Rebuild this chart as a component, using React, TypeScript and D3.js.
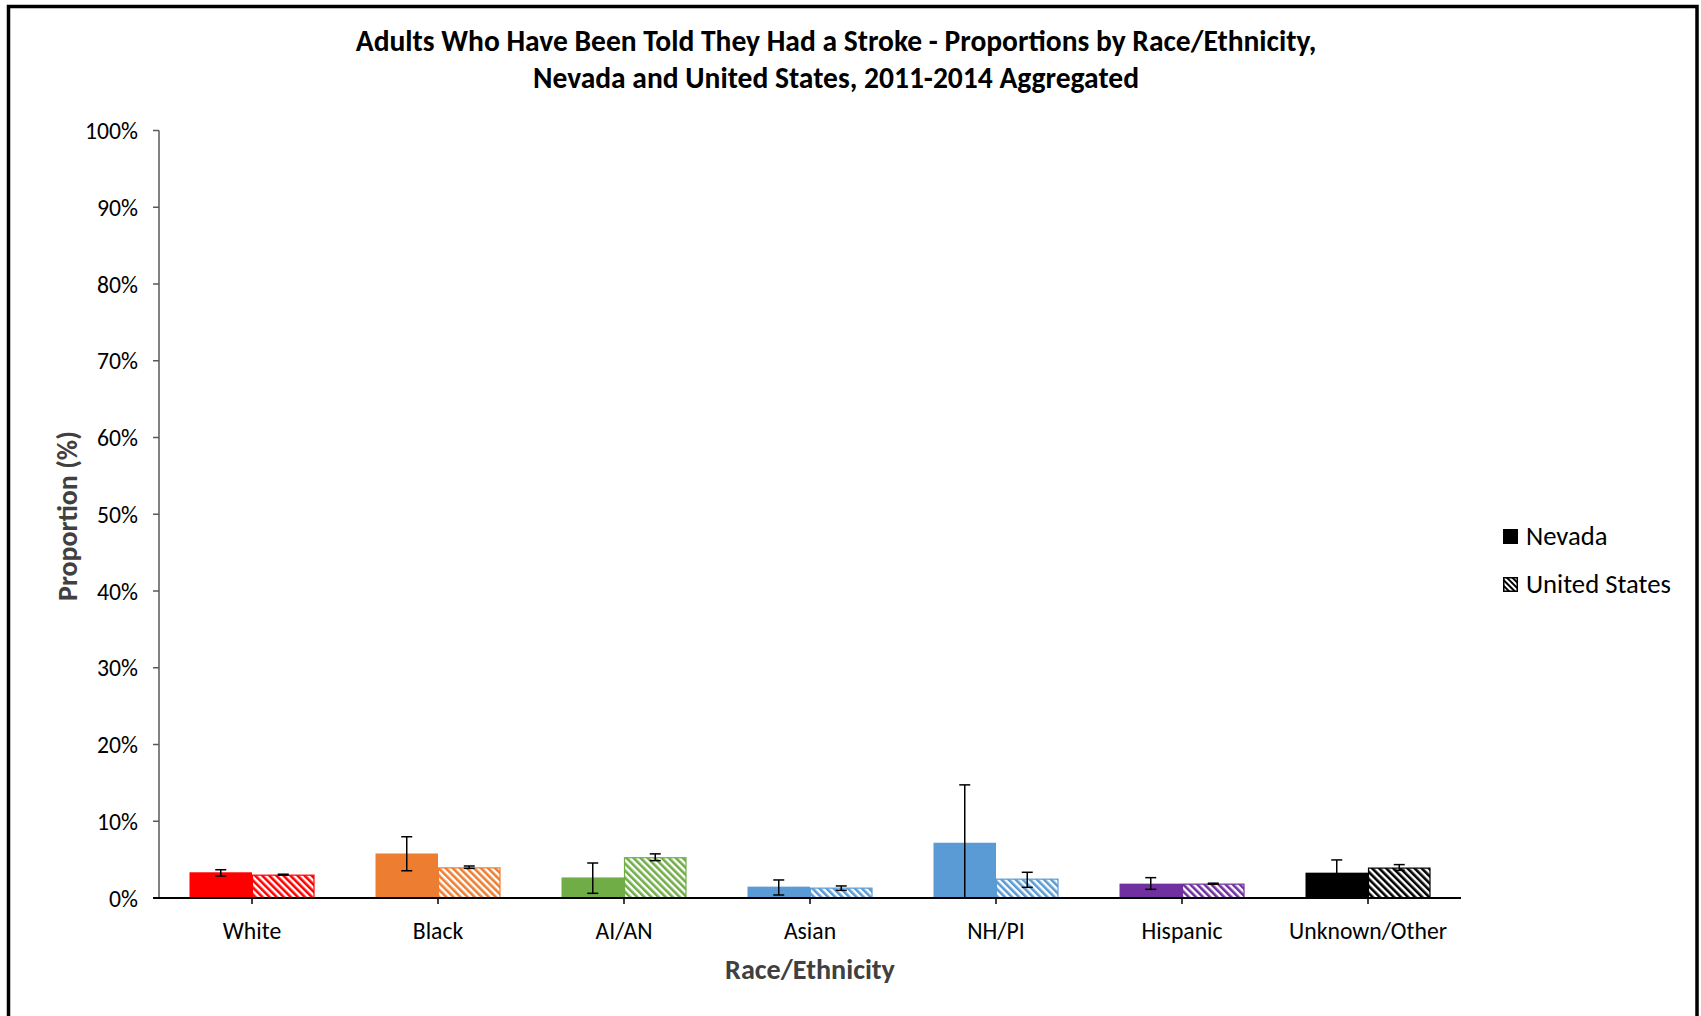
import React, { useEffect, useRef } from 'react';
import * as d3 from 'd3';

const categories = ['White', 'Black', 'AI/AN', 'Asian', 'NH/PI', 'Hispanic', 'Unknown/Other'];
const barColors = ['#FF0000', '#ED7D31', '#70AD47', '#5B9BD5', '#5B9BD5', '#7030A0', '#000000'];
const nevada = [3.35, 5.8, 2.68, 1.48, 7.2, 1.87, 3.3];
const nevadaLow = [2.87, 3.55, 0.61, 0.39, 0.0, 1.13, 1.52];
const nevadaHigh = [3.68, 7.98, 4.56, 2.35, 14.74, 2.65, 4.96];
const unitedStates = [3.04, 3.99, 5.31, 1.35, 2.52, 1.87, 3.96];
const unitedStatesLow = [2.98, 3.86, 4.87, 1.0, 1.39, 1.8, 3.6];
const unitedStatesHigh = [3.1, 4.17, 5.75, 1.57, 3.35, 1.93, 4.35];
const yTicks = [0, 10, 20, 30, 40, 50, 60, 70, 80, 90, 100];
const seriesNames = ['Nevada', 'United States'];
const titleLines = [
  'Adults Who Have Been Told They Had a Stroke - Proportions by Race/Ethnicity,',
  'Nevada and United States, 2011-2014 Aggregated',
];

const FONT = 'Calibri, Carlito, Lato, sans-serif';

export default function App() {
  const svgRef = useRef<SVGSVGElement>(null);

  const W = 1701;
  const H = 1016;
  const left = 159;
  const right = 1461;
  const top = 130.5;
  const bottom = 898;

  const x = d3.scaleBand<string>().domain(categories).range([left, right]).paddingInner(0.328).paddingOuter(0.164);
  const xs = d3.scaleBand<string>().domain(['nv', 'us']).range([0, x.bandwidth()]);
  const y = d3.scaleLinear().domain([0, 100]).range([bottom, top]);

  useEffect(() => {
    const svg = d3.select(svgRef.current);
    const groups: Record<string, number> = {};
    svg.selectAll<SVGTextElement, unknown>('text[data-w]').each(function () {
      const target = +(this.getAttribute('data-w') || 0);
      const g = this.getAttribute('data-group') || '';
      const len = this.getComputedTextLength();
      const fs = parseFloat(this.getAttribute('font-size') || '16');
      if (len > 0) groups[g] = (fs * target) / len;
    });
    Object.keys(groups).forEach((g) => {
      svg.selectAll(`text[data-group="${g}"]`).attr('font-size', groups[g]);
    });
  }, []);

  const errBar = (cx: number, lo: number, hi: number, key: string) => (
    <g key={key} stroke="#000" strokeWidth={1.5}>
      <line x1={cx} x2={cx} y1={y(lo)} y2={y(hi)} />
      <line x1={cx - 5.5} x2={cx + 5.5} y1={y(lo)} y2={y(lo)} />
      <line x1={cx - 5.5} x2={cx + 5.5} y1={y(hi)} y2={y(hi)} />
    </g>
  );

  return (
    <svg
      ref={svgRef}
      width={W}
      height={H}
      style={{ position: 'absolute', left: 0, top: 0, display: 'block', background: '#fff' }}
      fontFamily={FONT}
    >
      <defs>
        {barColors.map((c, i) => (
          <pattern
            key={i}
            id={`hatch-${i}`}
            width={5}
            height={5}
            patternUnits="userSpaceOnUse"
            patternTransform="rotate(-45)"
          >
            <rect width={5} height={5} fill="#fff" />
            <rect width={2.6} height={5} fill={c} />
          </pattern>
        ))}
        <pattern id="hatch-legend" width={4} height={4} patternUnits="userSpaceOnUse" patternTransform="rotate(-45)">
          <rect width={4} height={4} fill="#fff" />
          <rect width={2} height={4} fill="#000" />
        </pattern>
      </defs>

      <rect x={8.5} y={6.5} width={1688.5} height={1100} fill="#fff" stroke="#000" strokeWidth={3.5} />

      {titleLines.map((t, i) => (
        <text
          key={t}
          x={836}
          y={i === 0 ? 41 : 78}
          textAnchor="middle"
          dominantBaseline="central"
          fontWeight="bold"
          fontSize={24}
          fill="#000"
          data-group="title"
          {...(i === 0 ? { 'data-w': 961 } : {})}
        >
          {t}
        </text>
      ))}

      {/* y axis */}
      <line x1={left} x2={left} y1={top} y2={bottom} stroke="#595959" strokeWidth={1.5} />
      {yTicks.map((t, i) => (
        <g key={t}>
          <line x1={left - 6} x2={left} y1={y(t)} y2={y(t)} stroke="#595959" strokeWidth={1.5} />
          <text
            x={138}
            y={y(t)}
            textAnchor="end"
            dominantBaseline="central"
            fontSize={19}
            fill="#000"
            data-group="ytick"
            {...(t === 100 ? { 'data-w': 53 } : {})}
          >
            {t}%
          </text>
        </g>
      ))}

      {/* bars */}
      {categories.map((c, i) => {
        const x0 = x(c) as number;
        const nvX = x0 + (xs('nv') as number);
        const usX = x0 + (xs('us') as number);
        const bw = xs.bandwidth();
        return (
          <g key={c}>
            <rect x={nvX} y={y(nevada[i])} width={bw} height={y(0) - y(nevada[i])} fill={barColors[i]} />
            <rect
              x={usX + 0.5}
              y={y(unitedStates[i]) + 0.5}
              width={bw - 1}
              height={y(0) - y(unitedStates[i]) - 0.5}
              fill={`url(#hatch-${i})`}
              stroke={barColors[i]}
              strokeWidth={1.2}
            />
            {errBar(nvX + bw / 2, nevadaLow[i], nevadaHigh[i], 'e1')}
            {errBar(usX + bw / 2, unitedStatesLow[i], unitedStatesHigh[i], 'e2')}
          </g>
        );
      })}

      {/* x axis */}
      <line x1={left - 6} x2={right} y1={bottom} y2={bottom} stroke="#000" strokeWidth={1.8} />
      {categories.map((c, i) => {
        const cx = (x(c) as number) + x.bandwidth() / 2;
        return (
          <g key={c}>
            <line x1={cx} x2={cx} y1={bottom} y2={bottom + 6} stroke="#000" strokeWidth={1.5} />
            <text
              x={cx}
              y={930}
              textAnchor="middle"
              dominantBaseline="central"
              fontSize={19}
              fill="#000"
              data-group="xtick"
              {...(c === 'Unknown/Other' ? { 'data-w': 158 } : {})}
            >
              {c}
            </text>
          </g>
        );
      })}

      <text
        x={810}
        y={969}
        textAnchor="middle"
        dominantBaseline="central"
        fontWeight="bold"
        fontSize={22}
        fill="#404040"
        data-group="xtitle"
        data-w={170}
      >
        Race/Ethnicity
      </text>
      <text
        transform="translate(67,516) rotate(-90)"
        textAnchor="middle"
        dominantBaseline="central"
        fontWeight="bold"
        fontSize={22}
        fill="#404040"
        data-group="ytitle"
        data-w={170}
      >
        Proportion (%)
      </text>

      {/* legend */}
      <rect x={1503} y={529} width={15} height={15} fill="#000" />
      <rect x={1503.75} y={577.75} width={13.5} height={13.5} fill="url(#hatch-legend)" stroke="#000" strokeWidth={1.5} />
      {seriesNames.map((s, i) => (
        <text
          key={s}
          x={1526}
          y={i === 0 ? 536 : 584}
          dominantBaseline="central"
          fontSize={21}
          fill="#000"
          data-group="legend"
          {...(i === 1 ? { 'data-w': 145 } : {})}
        >
          {s}
        </text>
      ))}
    </svg>
  );
}
